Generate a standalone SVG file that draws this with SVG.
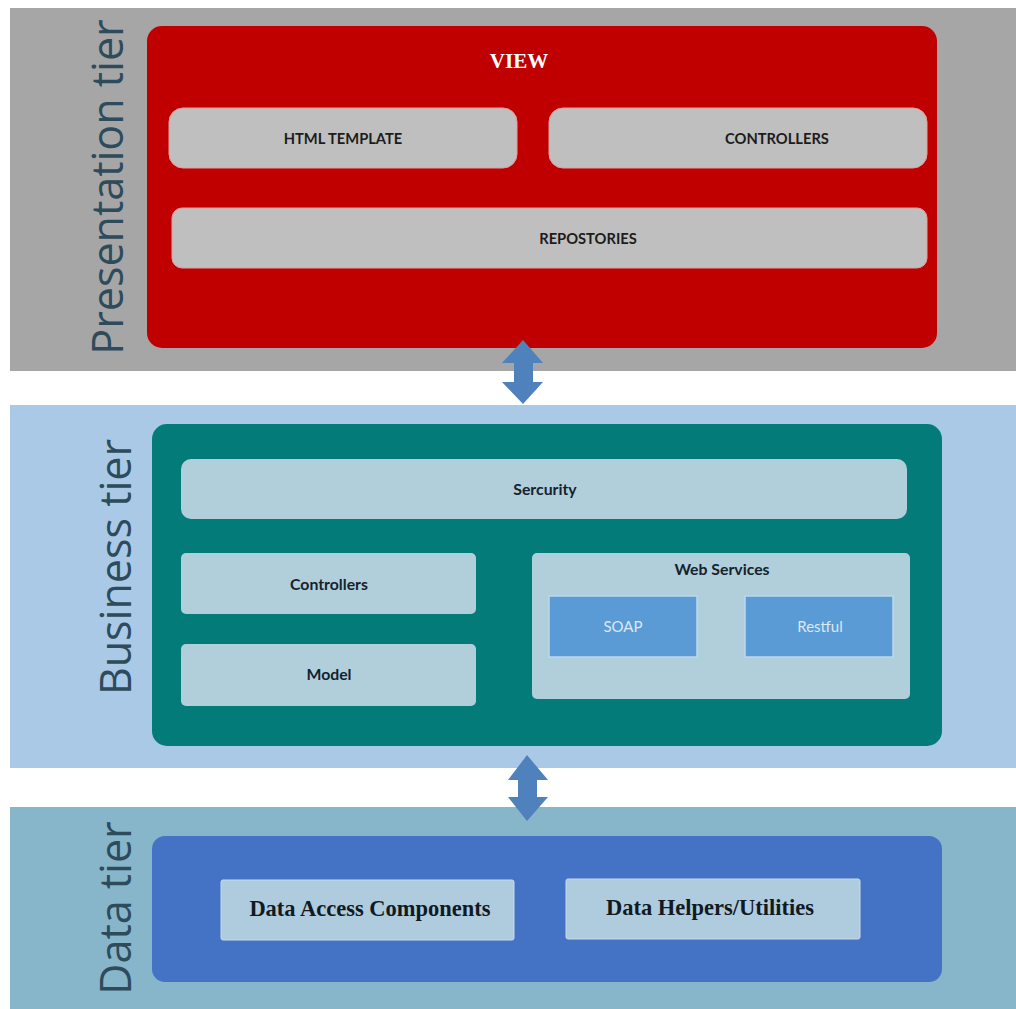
<svg xmlns="http://www.w3.org/2000/svg" width="1016" height="1009" viewBox="0 0 1016 1009">
  <defs>
    <style>
      .tier { font-family: "Open Sans", "DejaVu Sans", sans-serif; font-weight: 400; font-size: 43px; fill: #2e4b5b; }
      .lbl { font-family: Lato, "Open Sans", sans-serif; font-weight: 700; font-size: 14.7px; fill: #1c1c1c; text-anchor: middle; }
      .blbl { font-family: Lato, "Open Sans", sans-serif; font-weight: 700; font-size: 15.8px; fill: #15222e; text-anchor: middle; }
      .wlbl { font-family: Lato, "Open Sans", sans-serif; font-weight: 400; font-size: 15px; fill: #dce8f4; text-anchor: middle; }
      .serif { font-family: "Liberation Serif", "Times New Roman", serif; font-weight: 700; text-anchor: middle; }
      .grey { fill: #bfbfbf; stroke: #dca0a0; stroke-width: 1; }
      .pale { fill: #b1cfdb; }
      .svc { fill: #5b9bd5; stroke: #bdd7ee; stroke-width: 1.5; }
      .data { fill: #afcbde; stroke: #c6dcea; stroke-width: 1; }
      .arrow { fill: #4f81bd; }
    </style>
  </defs>

  <rect width="1016" height="1009" fill="#ffffff"/>

  <!-- Presentation tier -->
  <g id="presentation-tier">
    <rect x="10" y="8" width="1006" height="363" fill="#a6a6a6"/>
    <text class="tier" text-anchor="middle" transform="translate(123,187) rotate(-90)">Presentation tier</text>
    <g id="view">
      <rect x="147" y="26" width="790" height="322" rx="15" fill="#c00000"/>
      <text class="serif" x="519" y="68" font-size="21" fill="#ffffff">VIEW</text>
    </g>
    <g id="html-template">
      <rect class="grey" x="169" y="108" width="348" height="60" rx="14"/>
      <text class="lbl" x="343" y="144">HTML TEMPLATE</text>
    </g>
    <g id="controllers-view">
      <rect class="grey" x="549" y="108" width="378" height="60" rx="14"/>
      <text class="lbl" x="777" y="144">CONTROLLERS</text>
    </g>
    <g id="repostories">
      <rect class="grey" x="172" y="208" width="755" height="60" rx="10"/>
      <text class="lbl" x="588" y="244">REPOSTORIES</text>
    </g>
  </g>

  <!-- Business tier -->
  <g id="business-tier">
    <rect x="10" y="405" width="1006" height="363" fill="#a9c9e7"/>
    <text class="tier" text-anchor="middle" transform="translate(131,567) rotate(-90)">Business tier</text>
    <rect x="152" y="424" width="790" height="322" rx="15" fill="#027b79"/>
    <g id="security">
      <rect class="pale" x="181" y="459" width="726" height="60" rx="10"/>
      <text class="blbl" x="545" y="495">Sercurity</text>
    </g>
    <g id="controllers">
      <rect class="pale" x="181" y="553" width="295" height="61" rx="5"/>
      <text class="blbl" x="329" y="590">Controllers</text>
    </g>
    <g id="model">
      <rect class="pale" x="181" y="644" width="295" height="62" rx="5"/>
      <text class="blbl" x="329" y="680">Model</text>
    </g>
    <g id="web-services">
      <rect class="pale" x="532" y="553" width="378" height="146" rx="5"/>
      <text class="blbl" x="722" y="575">Web Services</text>
    </g>
    <g id="soap">
      <rect class="svc" x="549" y="596" width="148" height="61"/>
      <text class="wlbl" x="623" y="632">SOAP</text>
    </g>
    <g id="restful">
      <rect class="svc" x="745" y="596" width="148" height="61"/>
      <text class="wlbl" x="820" y="632">Restful</text>
    </g>
  </g>

  <!-- Data tier -->
  <g id="data-tier">
    <rect x="10" y="807" width="1006" height="202" fill="#87b5ca"/>
    <text class="tier" text-anchor="middle" transform="translate(131,908) rotate(-90)">Data tier</text>
    <rect x="152" y="836" width="790" height="146" rx="13" fill="#4472c4"/>
    <g id="data-access">
      <rect class="data" x="221" y="880" width="293" height="60" rx="2"/>
      <text class="serif" x="370" y="916" font-size="22.5" fill="#111a22">Data Access Components</text>
    </g>
    <g id="data-helpers">
      <rect class="data" x="566" y="879" width="294" height="60" rx="2"/>
      <text class="serif" x="710" y="915" font-size="22.5" fill="#111a22">Data Helpers/Utilities</text>
    </g>
  </g>

  <!-- Connectors between tiers -->
  <g id="connectors">
    <polygon class="arrow" points="523,340 543,363 533,363 533,382 543,382 523,404 502,382 514,382 514,363 502,363"/>
    <polygon class="arrow" points="527,755 548,780 537,780 537,797 548,797 527,821 508,797 518,797 518,780 508,780"/>
  </g>
</svg>
